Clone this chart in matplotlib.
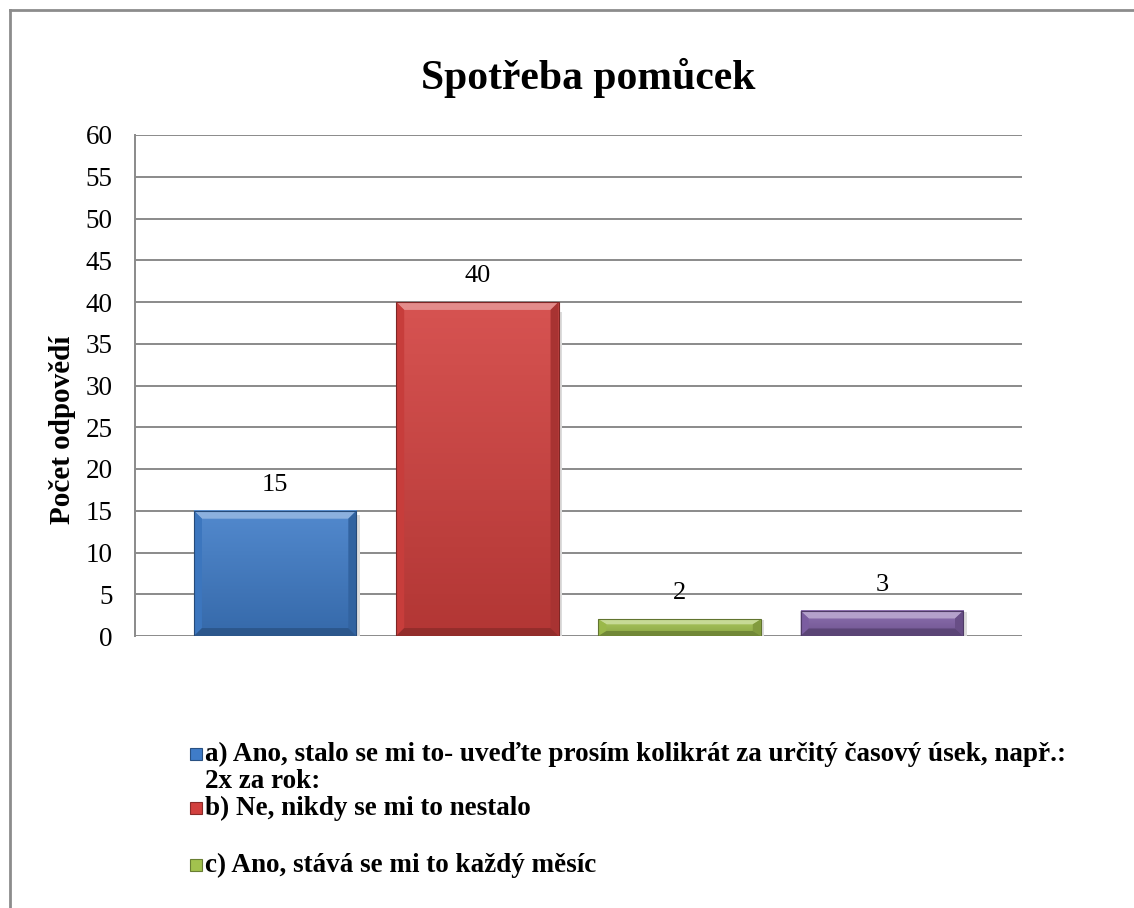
import matplotlib
matplotlib.use("Agg")
import matplotlib.pyplot as plt
import numpy as np
from matplotlib.patches import Polygon, Rectangle
from matplotlib.lines import Line2D
from matplotlib.colors import to_rgb

# DATA
TITLE = "Spotřeba pomůcek"
Y_LABEL = "Počet odpovědí"
SERIES_LABELS = [
    "a) Ano, stalo se mi to- uveďte prosím kolikrát za určitý časový úsek, např.:\n2x za rok:",
    "b) Ne, nikdy se mi to nestalo",
    "c) Ano, stává se mi to každý měsíc",
]
VALUES = [15, 40, 2, 3]
COLORS = ["#3f7cc8", "#d2403e", "#a2c24e", "#8262a8"]
Y_TICKS = list(range(0, 61, 5))

W, H = 1134, 908
plt.rcParams["font.family"] = ["Liberation Serif", "DejaVu Serif"]


def shade(c, f):
    r = np.array(to_rgb(c))
    if f >= 0:
        return tuple(r + (1 - r) * f)
    return tuple(r * (1 + f))


def bevel_bar(ax, x0, w, h, color, bx, by):
    x1 = x0 + w
    by = min(by, h * 0.3)
    # body with vertical gradient, lighter at top
    grad = np.linspace(0, 1, 64).reshape(-1, 1)
    top, bot = np.array(shade(color, 0.1)), np.array(shade(color, -0.15))
    img = top[None, None, :] * (1 - grad[:, :, None]) + bot[None, None, :] * grad[:, :, None]
    ax.imshow(img, extent=(x0, x1, 0, h), origin="upper", aspect="auto", zorder=3)
    faces = [
        ([(x0, h), (x1, h), (x1 - bx, h - by), (x0 + bx, h - by)], shade(color, 0.4)),
        ([(x0, 0), (x0, h), (x0 + bx, h - by), (x0 + bx, by)], shade(color, -0.05)),
        ([(x1, 0), (x1, h), (x1 - bx, h - by), (x1 - bx, by)], shade(color, -0.2)),
        ([(x0, 0), (x1, 0), (x1 - bx, by), (x0 + bx, by)], shade(color, -0.3)),
    ]
    for pts, c in faces:
        ax.add_patch(Polygon(pts, closed=True, facecolor=c, edgecolor="none", zorder=4))
    ax.add_patch(Rectangle((x0, 0), w, h, facecolor="none",
                           edgecolor=shade(color, -0.4), lw=0.8, zorder=5))


fig = plt.figure(figsize=(W / 100, H / 100), dpi=100)
ax = fig.add_axes([135 / W, 1 - 636 / H, (1022 - 135) / W, (636 - 135) / H])

n = len(VALUES)
step, width = 0.228, 0.183
centers = [(i - (n - 1) / 2) * step for i in range(n)]
for cx, v, c in zip(centers, VALUES, COLORS):
    bevel_bar(ax, cx - width / 2, width, v, c, 0.009, 0.95)
    # soft shadow to the right
    ax.add_patch(Rectangle((cx + width / 2, 0), 0.004, v * 0.97, facecolor="#dcdcdc",
                           edgecolor="none", zorder=2))
    ax.text(cx, v + 3.1, str(v), ha="center", va="center", fontsize=19)

ax.set_xlim(-0.5, 0.5)
ax.set_ylim(0, 60)
ax.set_yticks(Y_TICKS)
ax.tick_params(axis="y", length=0, labelsize=19.5, pad=16)
ax.set_xticks([])
ax.grid(axis="y", color="#8a8a8a", lw=1.4, zorder=0)
ax.set_axisbelow(True)
for s in ["top", "right", "bottom"]:
    ax.spines[s].set_visible(False)
ax.spines["left"].set_color("#8a8a8a")
ax.spines["left"].set_linewidth(1.4)
ax.set_ylabel(Y_LABEL, fontsize=21, fontweight="bold")
ax.yaxis.set_label_coords((76 - 135) / (1022 - 135), (636 - 430) / (636 - 135))

fig.text(588 / W, 1 - 78 / H, TITLE, ha="center", va="center", fontsize=30, fontweight="bold")

# outer chart border (top and left visible)
fig.add_artist(Line2D([10 / W, 10 / W], [0, 1 - 10 / H], color="#8c8c8c", lw=2))
fig.add_artist(Line2D([10 / W, 1], [1 - 10 / H, 1 - 10 / H], color="#8c8c8c", lw=2))

# legend
row_y = [754, 808, 865]
line_gap = 28
for lbl, c, y in zip(SERIES_LABELS, COLORS, row_y):
    fig.add_artist(Rectangle((190 / W, 1 - (y + 6) / H), 12 / W, 12 / H,
                             transform=fig.transFigure, facecolor=c,
                             edgecolor=shade(c, -0.35), lw=0.8))
    for j, line in enumerate(lbl.split("\n")):
        fig.text(205 / W, 1 - (y + j * line_gap) / H, line, ha="left", va="center",
                 fontsize=19.5, fontweight="bold")

fig.savefig("out.png", dpi=100)
